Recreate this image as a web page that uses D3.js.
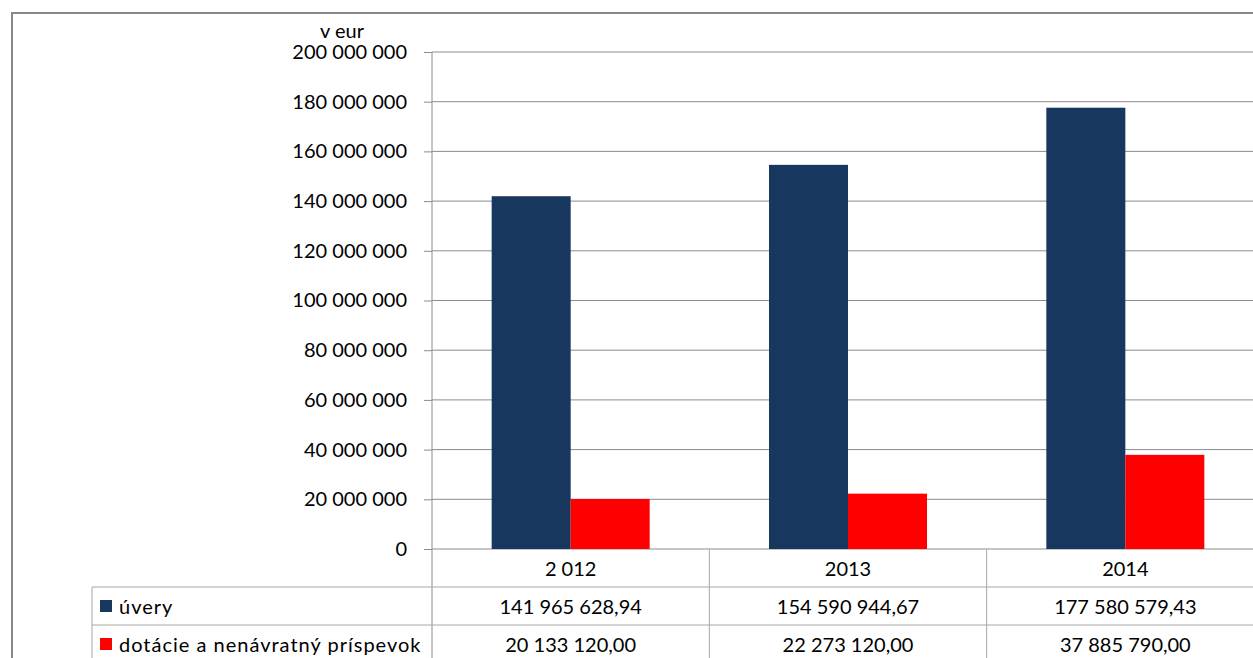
<!DOCTYPE html>
<html>
<head>
<meta charset="utf-8">
<script src="https://cdn.jsdelivr.net/npm/d3@7"></script>
<style>
  body { margin: 0; background: #fff; }
  text { font-family: Lato, "Open Sans", sans-serif; fill: #000; }
</style>
</head>
<body>
<svg width="1253" height="658"></svg>
<script>
var years = ["2 012", "2013", "2014"];
var uvery = [141965628.94, 154590944.67, 177580579.43];
var dotacie = [20133120.00, 22273120.00, 37885790.00];
var seriesNames = ["úvery", "dotácie a nenávratný príspevok"];
var seriesColors = ["#17375e", "#ff0000"];
var yTicks = [0, 20000000, 40000000, 60000000, 80000000, 100000000, 120000000, 140000000, 160000000, 180000000, 200000000];

function createChart() {
  var svg = d3.select("svg");
  var plotL = 432, plotR = 1264, plotT = 52, plotB = 549;
  var rowH = 38;
  var fs = "20px";

  // outer frame
  svg.append("rect")
    .attr("x", 12).attr("y", 13).attr("width", 1300).attr("height", 700)
    .attr("fill", "none").attr("stroke", "#888").attr("stroke-width", 2);

  var x = d3.scaleBand().domain(years).range([plotL, plotR]);
  var y = d3.scaleLinear().domain([0, 200000000]).range([plotB, plotT]);

  // numbers with spaces as thousand separators
  var loc = d3.formatLocale({decimal: ",", thousands: "\u00a0", grouping: [3], currency: ["", ""]});
  var fmtInt = loc.format(",.0f");
  var fmtDec = loc.format(",.2f");

  // gridlines
  svg.append("g").selectAll("line").data(yTicks).enter().append("line")
    .attr("x1", plotL).attr("x2", plotR)
    .attr("y1", function(d) { return y(d); }).attr("y2", function(d) { return y(d); })
    .attr("stroke", "#8c8c8c").attr("stroke-width", 1);

  // y axis
  var yAxis = svg.append("g")
    .attr("transform", "translate(" + plotL + ",0)")
    .call(d3.axisLeft(y).tickValues(yTicks).tickSize(8).tickPadding(17).tickFormat(fmtInt));
  yAxis.selectAll("line, path").attr("stroke", "#8c8c8c");
  yAxis.select(".domain").attr("d", "M0," + plotT + "V" + (plotB + 3 * rowH + 10));
  yAxis.selectAll("text").attr("font-family", null).style("font-size", fs);

  svg.append("text").attr("x", 342).attr("y", 38).attr("text-anchor", "middle")
    .style("font-size", fs).text("v eur");

  // bars
  var barW = 79;
  var data = years.map(function(yr, i) { return {year: yr, vals: [uvery[i], dotacie[i]]}; });
  var groups = svg.append("g").selectAll("g").data(data).enter().append("g")
    .attr("transform", function(d) { return "translate(" + (x(d.year) + x.bandwidth() / 2 - barW) + ",0)"; });
  groups.selectAll("rect").data(function(d) { return d.vals; }).enter().append("rect")
    .attr("x", function(d, i) { return i * barW; })
    .attr("width", barW)
    .attr("y", function(d) { return y(d); })
    .attr("height", function(d) { return plotB - y(d); })
    .attr("fill", function(d, i) { return seriesColors[i]; });

  // data table below the plot
  var tbl = svg.append("g");
  var lineC = "#a6a6a6";
  years.forEach(function(yr) {
    tbl.append("line").attr("x1", x(yr) + x.bandwidth()).attr("x2", x(yr) + x.bandwidth())
      .attr("y1", plotB).attr("y2", plotB + 3 * rowH + 10).attr("stroke", lineC);
    tbl.append("text").attr("x", x(yr) + x.bandwidth() / 2).attr("y", plotB + 27)
      .attr("text-anchor", "middle").style("font-size", fs).text(yr);
  });
  [1, 2].forEach(function(r) {
    tbl.append("line").attr("x1", 92).attr("x2", plotR)
      .attr("y1", plotB + r * rowH).attr("y2", plotB + r * rowH).attr("stroke", lineC);
  });
  tbl.append("line").attr("x1", 92).attr("x2", 92)
    .attr("y1", plotB + rowH).attr("y2", plotB + 3 * rowH + 10).attr("stroke", lineC);

  var rows = [uvery, dotacie];
  rows.forEach(function(vals, r) {
    var cy = plotB + (r + 1) * rowH;
    tbl.append("rect").attr("x", 100).attr("y", cy + 13).attr("width", 12).attr("height", 12)
      .attr("fill", seriesColors[r]);
    tbl.append("text").attr("x", 119).attr("y", cy + 27).style("font-size", fs)
      .style("letter-spacing", "1px").text(seriesNames[r]);
    vals.forEach(function(v, i) {
      tbl.append("text").attr("x", x(years[i]) + x.bandwidth() / 2).attr("y", cy + 27)
        .attr("text-anchor", "middle").style("font-size", fs).text(fmtDec(v));
    });
  });
}
createChart();
</script>
</body>
</html>
